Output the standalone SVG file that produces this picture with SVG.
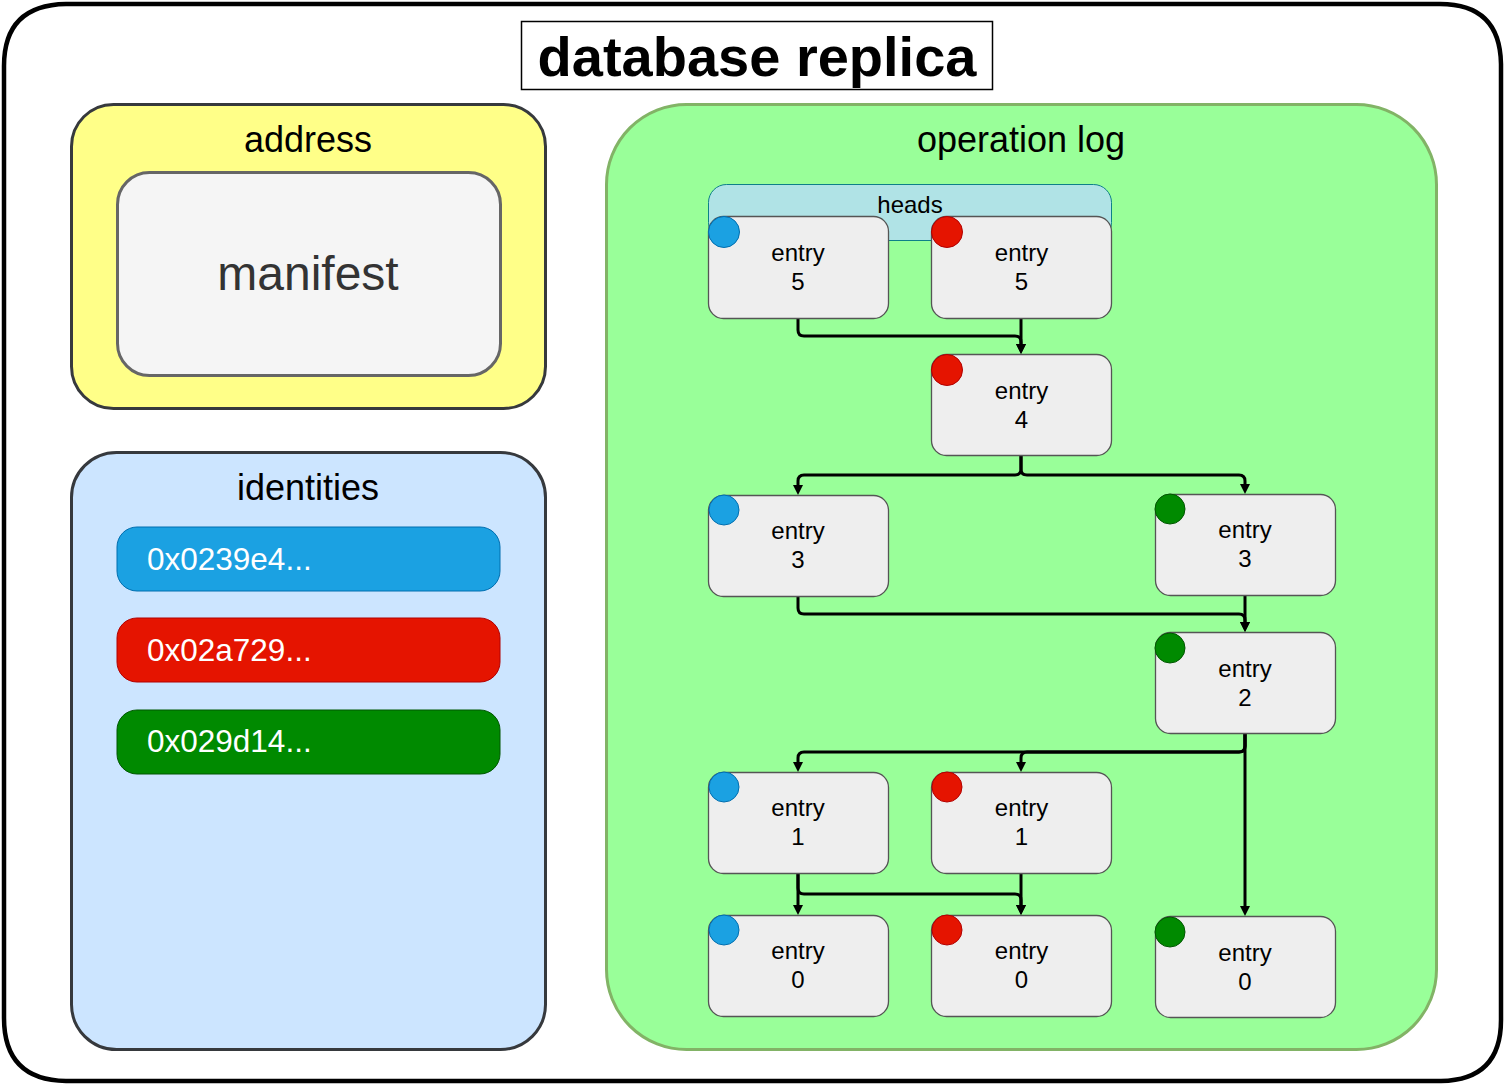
<svg xmlns="http://www.w3.org/2000/svg" width="1511" height="1092" viewBox="0 0 1511 1092">
<style>
.t{font-family:"Liberation Sans",Arial,sans-serif;text-anchor:middle;fill:#000}
.entry{fill:#eeeeee;stroke:#555555;stroke-width:1.3}
.et{font-family:"Liberation Sans",Arial,sans-serif;text-anchor:middle;font-size:24px;fill:#000}
.blue{fill:#1ba1e2;stroke:#006eaf;stroke-width:1}
.red{fill:#e51400;stroke:#b20000;stroke-width:1}
.green{fill:#008a00;stroke:#005700;stroke-width:1}
.pt{font-family:"Liberation Sans",Arial,sans-serif;font-size:31.5px;fill:#ffffff}
.edge{fill:none;stroke:#000;stroke-width:3;marker-end:url(#arr)}
</style>
<defs>
<marker id="arr" viewBox="0 0 10 10" refX="1" refY="5" markerWidth="10" markerHeight="10" markerUnits="userSpaceOnUse" orient="auto">
<path d="M0,0 L10,5 L0,10 z" fill="#000"/>
</marker>
</defs>
<rect width="1511" height="1092" fill="#ffffff"/>
<g id="outer">
<path d="M66,4 H1440 Q1500,4 1501,64 V1020 Q1501,1080 1441,1081 H66 Q4,1080 4,1018 V66 Q4,5 66,4 Z" fill="#ffffff" stroke="#000" stroke-width="4.5"/>
</g>
<g id="title">
<rect x="521.5" y="21.5" width="471" height="68" fill="#ffffff" stroke="#000" stroke-width="1.5"/>
<text class="t" x="757" y="76" font-size="56" font-weight="bold">database replica</text>
</g>
<g id="address">
<rect x="71.5" y="104.5" width="474" height="304" rx="42" fill="#ffff88" stroke="#36393d" stroke-width="3"/>
<text class="t" x="308" y="152" font-size="36">address</text>
</g>
<g id="manifest">
<rect x="117.5" y="172.5" width="383" height="203" rx="32" fill="#f5f5f5" stroke="#666666" stroke-width="3"/>
<text class="t" x="308" y="290" font-size="48" style="fill:#333333">manifest</text>
</g>
<g id="identities">
<rect x="71.5" y="452.5" width="474" height="597" rx="45" fill="#cce5ff" stroke="#36393d" stroke-width="3"/>
<text class="t" x="308" y="500" font-size="36">identities</text>
</g>
<g id="id-blue">
<rect x="117" y="527" width="383" height="64" rx="20" class="blue"/>
<text class="pt" x="147" y="570">0x0239e4...</text>
</g>
<g id="id-red">
<rect x="117" y="618" width="383" height="64" rx="20" class="red"/>
<text class="pt" x="147" y="661">0x02a729...</text>
</g>
<g id="id-green">
<rect x="117" y="710" width="383" height="64" rx="20" class="green"/>
<text class="pt" x="147" y="752">0x029d14...</text>
</g>
<g id="oplog">
<rect x="606.5" y="104.5" width="830" height="945" rx="80" fill="#99ff99" stroke="#82b366" stroke-width="3"/>
<text class="t" x="1021" y="152" font-size="36">operation log</text>
</g>
<g id="heads">
<rect x="708.5" y="184.5" width="403" height="56" rx="18" fill="#b0e3e6" stroke="#0e8088" stroke-width="1"/>
<text class="t" x="910" y="213" font-size="24">heads</text>
</g>
<g id="connectors">
<path class="edge" d="M798,318 V330 Q798,336 804,336 H1015 Q1021,336 1021,342 V345"/>
<path class="edge" d="M1021,318 V345"/>
<path class="edge" d="M1021,455 V469 Q1021,475 1015,475 H804 Q798,475 798,481 V486"/>
<path class="edge" d="M1021,455 V469 Q1021,475 1027,475 H1239 Q1245,475 1245,481 V485"/>
<path class="edge" d="M798,596 V608 Q798,614 804,614 H1239 Q1245,614 1245,620 V623"/>
<path class="edge" d="M1245,595 V623"/>
<path class="edge" d="M1245,733 V746 Q1245,752 1239,752 H804 Q798,752 798,758 V763"/>
<path class="edge" d="M1245,733 V746 Q1245,752 1239,752 H1027 Q1021,752 1021,758 V763"/>
<path class="edge" d="M1245,733 V907"/>
<path class="edge" d="M798,873 V906"/>
<path class="edge" d="M798,873 V888 Q798,894 804,894 H1015 Q1021,894 1021,900 V906"/>
<path class="edge" d="M1021,873 V906"/>
</g>
<g id="entry5-blue">
<rect x="708.5" y="216.5" width="180" height="102" rx="15" class="entry"/>
<circle cx="724" cy="232" r="15.5" class="blue"/>
<text class="et" x="798" y="261">entry</text><text class="et" x="798" y="290">5</text>
</g>
<g id="entry5-red">
<rect x="931.5" y="216.5" width="180" height="102" rx="15" class="entry"/>
<circle cx="947" cy="232" r="15.5" class="red"/>
<text class="et" x="1021.5" y="261">entry</text><text class="et" x="1021.5" y="290">5</text>
</g>
<g id="entry4-red">
<rect x="931.5" y="354.5" width="180" height="101" rx="15" class="entry"/>
<circle cx="947" cy="370" r="15.5" class="red"/>
<text class="et" x="1021.5" y="399">entry</text><text class="et" x="1021.5" y="428">4</text>
</g>
<g id="entry3-blue">
<rect x="708.5" y="495.5" width="180" height="101" rx="15" class="entry"/>
<circle cx="724" cy="510" r="15" class="blue"/>
<text class="et" x="798" y="539">entry</text><text class="et" x="798" y="568">3</text>
</g>
<g id="entry3-green">
<rect x="1155.5" y="494.5" width="180" height="101" rx="15" class="entry"/>
<circle cx="1170" cy="509" r="15" class="green"/>
<text class="et" x="1245" y="538">entry</text><text class="et" x="1245" y="567">3</text>
</g>
<g id="entry2-green">
<rect x="1155.5" y="632.5" width="180" height="101" rx="15" class="entry"/>
<circle cx="1170" cy="648" r="15" class="green"/>
<text class="et" x="1245" y="677">entry</text><text class="et" x="1245" y="706">2</text>
</g>
<g id="entry1-blue">
<rect x="708.5" y="772.5" width="180" height="101" rx="15" class="entry"/>
<circle cx="724" cy="787" r="15" class="blue"/>
<text class="et" x="798" y="816">entry</text><text class="et" x="798" y="845">1</text>
</g>
<g id="entry1-red">
<rect x="931.5" y="772.5" width="180" height="101" rx="15" class="entry"/>
<circle cx="947" cy="787" r="15" class="red"/>
<text class="et" x="1021.5" y="816">entry</text><text class="et" x="1021.5" y="845">1</text>
</g>
<g id="entry0-blue">
<rect x="708.5" y="915.5" width="180" height="101" rx="15" class="entry"/>
<circle cx="724" cy="930" r="15" class="blue"/>
<text class="et" x="798" y="959">entry</text><text class="et" x="798" y="988">0</text>
</g>
<g id="entry0-red">
<rect x="931.5" y="915.5" width="180" height="101" rx="15" class="entry"/>
<circle cx="947" cy="930" r="15" class="red"/>
<text class="et" x="1021.5" y="959">entry</text><text class="et" x="1021.5" y="988">0</text>
</g>
<g id="entry0-green">
<rect x="1155.5" y="916.5" width="180" height="101" rx="15" class="entry"/>
<circle cx="1170" cy="932" r="15" class="green"/>
<text class="et" x="1245" y="961">entry</text><text class="et" x="1245" y="990">0</text>
</g>
</svg>
